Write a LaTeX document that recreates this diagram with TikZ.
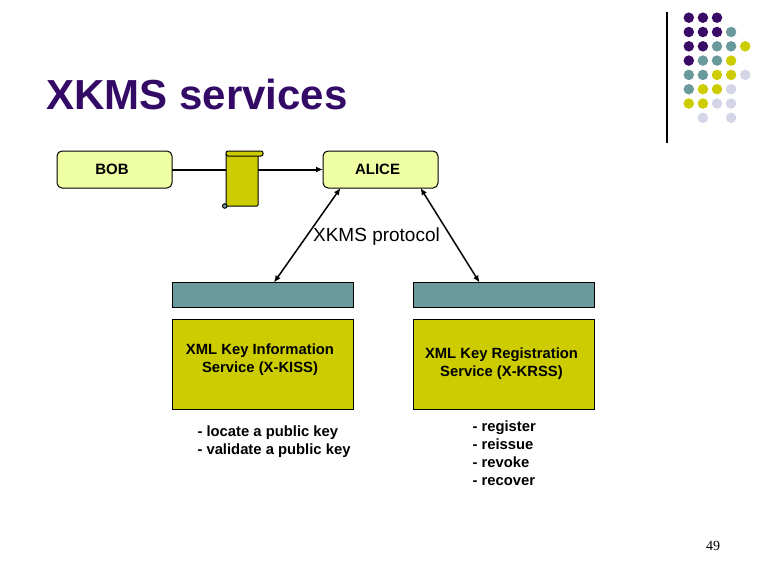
\documentclass[tikz,border=0pt]{standalone}
\usepackage{fontspec}
\setmainfont{Liberation Sans}
\newfontfamily\numfont{Liberation Serif}
\usetikzlibrary{positioning, arrows.meta}
\definecolor{dotpurple}{HTML}{3A0B66}
\definecolor{titlepurple}{HTML}{330A66}
\definecolor{dotteal}{HTML}{6A9A9C}
\definecolor{dotolive}{HTML}{CCCC00}
\definecolor{dotlilac}{HTML}{D5D5E8}
\definecolor{boxlime}{HTML}{EFFFA3}
\begin{document}
\begin{tikzpicture}[x=1pt, y=-1pt, line width=1pt, >={Latex[length=7pt,width=6pt]},
	person/.style = {draw, rounded corners=5pt, fill=boxlime, minimum width=115pt, minimum height=37pt, outer sep=0pt, font=\bfseries\fontsize{15}{18}\selectfont},
	bar/.style = {draw, fill=dotteal, minimum width=181pt, minimum height=25pt, outer sep=0pt},
	service/.style = {draw, fill=dotolive, minimum width=181pt, minimum height=90pt, outer sep=0pt},
	note/.style = {font=\bfseries\fontsize{14.8}{18}\selectfont, inner sep=0pt},
	ball/.style = {circle, inner sep=0pt, minimum size=10.5pt}]
	\useasboundingbox (0,0) rectangle (767,586);

	\node[anchor=west, inner sep=0pt, text=titlepurple] (title) at (46,94) {\fontsize{42}{48}\selectfont\bfseries XKMS services};

	% top row
	\node[person] (bob) at (114.5,169.5) {\kern-5pt BOB};
	\node[person, right=151pt of bob] (alice) {\kern-6pt ALICE};
	\draw[->, line width=2pt] (bob) -- (alice);

	% scroll on the line
	\node[draw, fill=dotolive, rounded corners=1pt, minimum width=32pt, minimum height=53pt, inner sep=0pt, outer sep=0pt] (scroll) at (242,179.5) {};
	\node[draw, fill=dotolive, rounded corners=2pt, minimum width=37pt, minimum height=5pt, inner sep=0pt, outer sep=0pt] (roll) at (244.5,153.5) {};
	\node[draw, circle, fill=dotteal, minimum size=4.5pt, inner sep=0pt, outer sep=0pt, left=-1pt of scroll.south west] (curl) {};

	% services
	\node[bar] (barA) at (263,295) {};
	\node[bar, right=60pt of barA] (barB) {};
	\node[service, below=12pt of barA] (kiss) {};
	\node[service, below=12pt of barB] (krss) {};
	\node[note, align=center] (kisstext) at (260,359.5) {XML Key Information\\Service (X-KISS)};
	\node[note, align=center] (krsstext) at (501.5,363.5) {XML Key Registration\\Service (X-KRSS)};
	\node[note, align=left, anchor=west] (kisslist) at (197,441.5) {- locate a public key\\- validate a public key};
	\node[note, align=left, anchor=west] (krsslist) at (472,453.5) {- register\\- reissue\\- revoke\\- recover};

	\draw[<->, line width=1.5pt] ([xshift=-40pt]alice.south) -- ([xshift=11pt]barA.north);
	\draw[<->, line width=1.5pt] ([xshift=40pt]alice.south) -- ([xshift=-24.5pt]barB.north);
	\node[inner sep=0pt, font=\fontsize{19}{20}\selectfont] (proto) at (376.5,236.5) {XKMS protocol};

	\node[inner sep=0pt, font=\numfont\fontsize{14}{14}\selectfont] (page) at (713,546) {49};

	% corner decoration
	\draw[line width=1.2pt] (667,12) -- (667,143);
	\foreach \col/\row/\tint in {
		0/0/dotpurple,1/0/dotpurple,2/0/dotpurple,
		0/1/dotpurple,1/1/dotpurple,2/1/dotpurple,3/1/dotteal,
		0/2/dotpurple,1/2/dotpurple,2/2/dotteal,3/2/dotteal,4/2/dotolive,
		0/3/dotpurple,1/3/dotteal,2/3/dotteal,3/3/dotolive,
		0/4/dotteal,1/4/dotteal,2/4/dotolive,3/4/dotolive,4/4/dotlilac,
		0/5/dotteal,1/5/dotolive,2/5/dotolive,3/5/dotlilac,
		0/6/dotolive,1/6/dotolive,2/6/dotlilac,3/6/dotlilac,
		1/7/dotlilac,3/7/dotlilac}
		\node[ball, fill=\tint] (dot\col\row) at (688.8+14.1*\col,17.7+14.3*\row) {};
\end{tikzpicture}
\end{document}
